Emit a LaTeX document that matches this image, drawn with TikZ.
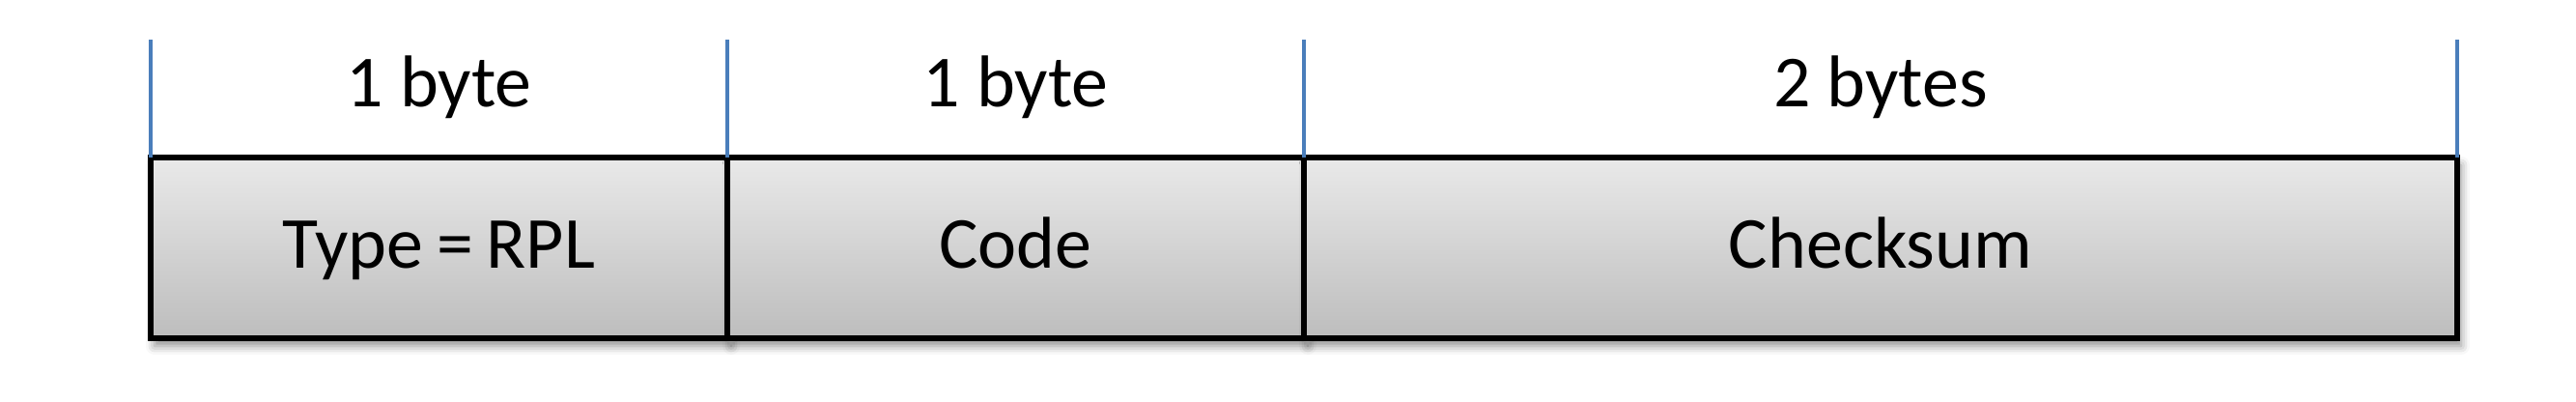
\documentclass[tikz,border=0pt]{standalone}
\usepackage{fontspec}
\setmainfont{Carlito}
\usetikzlibrary{shadows.blur,calc}
\definecolor{tickblue}{HTML}{4A7EBB}
\definecolor{celltop}{HTML}{E9E9E9}
\definecolor{cellbot}{HTML}{BDBDBD}
\tikzset{
  cellbox/.style={draw=black, line width=1.6pt, top color=celltop, bottom color=cellbot,
    minimum height=1.87cm, inner sep=0pt, outer sep=0pt, font=\fontsize{21.6}{26}\selectfont,
    text height=0.51cm, text depth=0.1cm,
    blur shadow={shadow xshift=0.04cm, shadow yshift=-0.08cm, shadow blur radius=0.09cm, shadow opacity=45}},
  sizelabel/.style={font=\fontsize{21.6}{26}\selectfont, inner sep=0pt, anchor=base},
  tickline/.style={draw=tickblue, line width=1.4pt}
}
\begin{document}
\begin{tikzpicture}
\useasboundingbox (0,0) rectangle (26.67,4.15);
\node[cellbox, minimum width=5.97cm] (c1) at (4.545,1.585) {\spaceskip=0.18em\relax Type = RPL};
\node[cellbox, minimum width=5.97cm] (c2) at (10.515,1.585) {Code};
\node[cellbox, minimum width=11.94cm] (c3) at (19.47,1.585) {Checksum};
\coordinate (t0) at ($(c1.north west)+(0,1.22)$);
\coordinate (t1) at ($(c2.north west)+(0,1.22)$);
\coordinate (t2) at ($(c3.north west)+(0,1.22)$);
\coordinate (t3) at ($(c3.north east)+(0,1.22)$);
\draw[tickline] (c1.north west) -- (t0);
\draw[tickline] (c2.north west) -- (t1);
\draw[tickline] (c3.north west) -- (t2);
\draw[tickline] (c3.north east) -- (t3);
\node[sizelabel] (l1) at (4.545,3.043) {1 byte};
\node[sizelabel] (l2) at (10.515,3.043) {1 byte};
\node[sizelabel] (l3) at (19.47,3.043) {2 bytes};
\end{tikzpicture}
\end{document}
